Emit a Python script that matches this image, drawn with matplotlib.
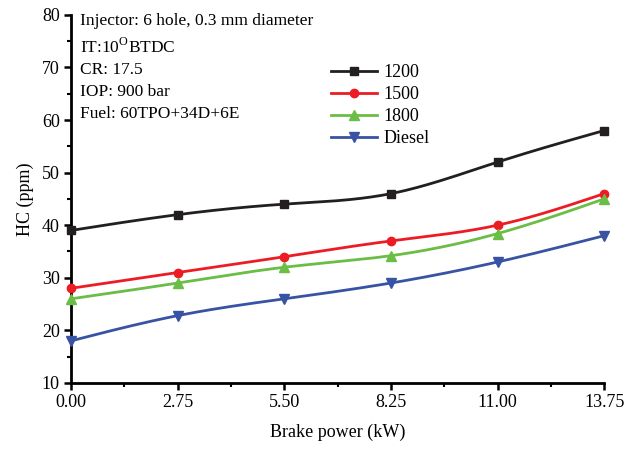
import numpy as np
import matplotlib
matplotlib.use("Agg")
import matplotlib.pyplot as plt
from matplotlib.ticker import MultipleLocator, FixedLocator

plt.rcParams['font.family'] = ['Liberation Serif', 'DejaVu Serif']
plt.rcParams['mathtext.fontset'] = 'custom'
plt.rcParams['mathtext.rm'] = 'Liberation Serif'

power = [0.00, 2.75, 5.50, 8.25, 11.00, 13.75]
hc_1200 = [39, 42, 44, 46, 52, 58]
hc_1500 = [28, 31, 34, 37, 40, 46]
hc_1800 = [26, 29, 32, 34.2, 38.4, 45]
hc_diesel = [18, 22.8, 26, 29, 33, 38]

series = [
    ("1200", hc_1200, "#231f20", "s", 5.5),
    ("1500", hc_1500, "#ed1c24", "o", 6.0),
    ("1800", hc_1800, "#6abd45", "^", 6.5),
    ("Diesel", hc_diesel, "#3853a4", "v", 6.5),
]


def natural_spline(x, y, n=200):
    """Natural cubic spline through (x, y), sampled for a smooth line."""
    x = np.asarray(x, float)
    y = np.asarray(y, float)
    k = len(x)
    h = np.diff(x)
    A = np.zeros((k, k))
    b = np.zeros(k)
    A[0, 0] = A[-1, -1] = 1
    for i in range(1, k - 1):
        A[i, i - 1] = h[i - 1]
        A[i, i] = 2 * (h[i - 1] + h[i])
        A[i, i + 1] = h[i]
        b[i] = 3 * ((y[i + 1] - y[i]) / h[i] - (y[i] - y[i - 1]) / h[i - 1])
    c = np.linalg.solve(A, b)
    xs = np.linspace(x[0], x[-1], n)
    ys = np.empty_like(xs)
    for j, xv in enumerate(xs):
        i = min(np.searchsorted(x, xv, side='right') - 1, k - 2)
        d = xv - x[i]
        bi = (y[i + 1] - y[i]) / h[i] - h[i] * (2 * c[i] + c[i + 1]) / 3
        di = (c[i + 1] - c[i]) / (3 * h[i])
        ys[j] = y[i] + bi * d + c[i] * d ** 2 + di * d ** 3
    return xs, ys


fig = plt.figure(figsize=(6.28, 4.5), dpi=100)
ax = fig.add_axes([0.113, 0.149, 0.849, 0.818])

for name, vals, color, marker, ms in series:
    xs, ys = natural_spline(power, vals)
    ax.plot(xs, ys, color=color, lw=2.0, zorder=2)
    ax.plot(power, vals, linestyle='none', marker=marker, color=color,
            markersize=ms, clip_on=False, zorder=3)
    ax.plot([], [], color=color, lw=2.0, marker=marker, markersize=ms,
            label=name)

ax.set_xlim(0, 13.75)
ax.set_ylim(10, 80)
ax.xaxis.set_major_locator(FixedLocator(power))
ax.set_xticklabels([f"{p:.2f}" for p in power])
ax.xaxis.set_minor_locator(FixedLocator([1.375 + 2.75 * i for i in range(5)]))
ax.yaxis.set_major_locator(MultipleLocator(10))
ax.yaxis.set_minor_locator(MultipleLocator(5))

for side in ('top', 'right'):
    ax.spines[side].set_visible(False)
for side in ('left', 'bottom'):
    ax.spines[side].set_linewidth(2.0)

ax.tick_params(which='major', direction='out', length=5, width=1.8,
               labelsize=13, pad=3)
ax.tick_params(which='minor', direction='out', length=3, width=1.5)

ax.set_xlabel("Brake power (kW)", fontsize=13, labelpad=9)
ax.set_ylabel("HC (ppm)", fontsize=13, labelpad=6)

info = ["Injector: 6 hole, 0.3 mm diameter",
        "IT:10$^\\mathrm{O}$BTDC",
        "CR: 17.5",
        "IOP: 900 bar",
        "Fuel: 60TPO+34D+6E"]
baselines = [0.973, 0.898, 0.838, 0.779, 0.721]
for line, yb in zip(info, baselines):
    ax.text(0.017, yb, line, transform=ax.transAxes,
            fontsize=12.5, va='baseline', ha='left')

leg = ax.legend(loc='upper left', bbox_to_anchor=(0.475, 0.885), frameon=False,
                fontsize=13, handlelength=2.5, handletextpad=0.4,
                labelspacing=0.27, borderaxespad=0)

fig.savefig("out.png", dpi=100)
